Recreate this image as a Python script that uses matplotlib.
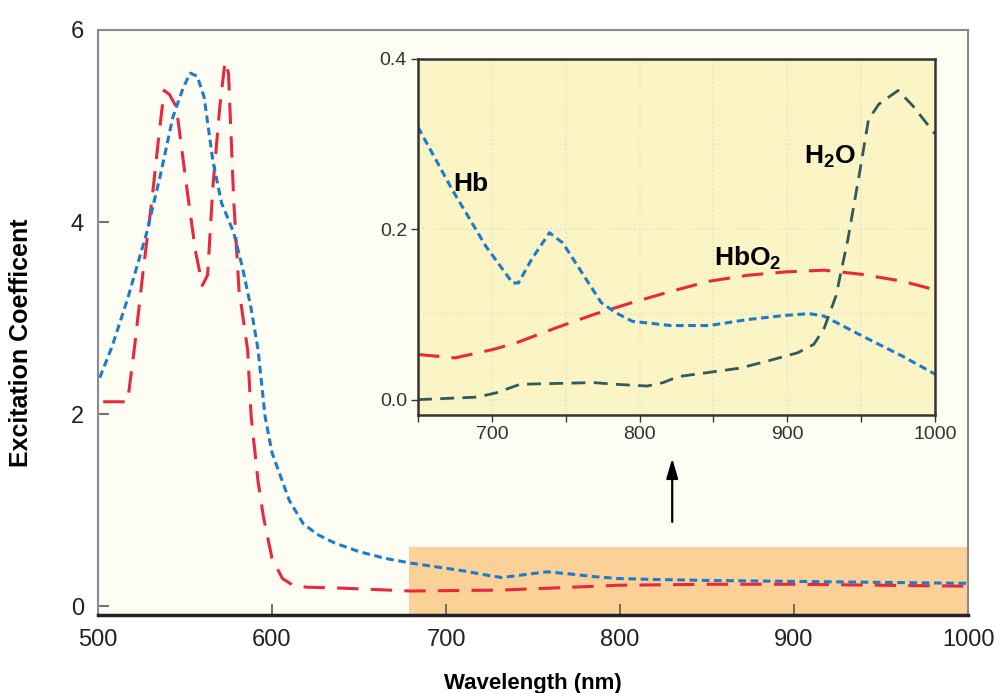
import matplotlib
matplotlib.use('Agg')
import matplotlib.pyplot as plt
from matplotlib.ticker import MultipleLocator

plt.rcParams['font.family'] = ['Liberation Sans Narrow', 'Liberation Sans', 'DejaVu Sans']
plt.rcParams['mathtext.default'] = 'regular'

# Main spectrum, 500-1000 nm
hb_x = [501, 508, 517, 528, 536, 543, 549, 553, 557, 561, 566, 571, 578, 583,
        588, 592, 596, 600, 604, 610, 618, 626, 636, 650, 665, 680, 695, 710,
        722, 732, 745, 758, 770, 785, 799, 820, 851, 900, 950, 1000]
hb_y = [2.38, 2.7, 3.2, 3.89, 4.5, 5.09, 5.4, 5.55, 5.52, 5.3, 4.64, 4.2, 3.89, 3.53,
        3.1, 2.67, 1.98, 1.6, 1.4, 1.1, 0.86, 0.75, 0.66, 0.57, 0.5, 0.45, 0.41, 0.37,
        0.33, 0.30, 0.33, 0.36, 0.34, 0.31, 0.29, 0.28, 0.27, 0.26, 0.25, 0.24]

hbo2_x = [503, 510, 517, 521, 526, 531, 535, 538, 541, 545, 551, 556, 560, 563,
          566, 570, 573, 575, 578, 581, 586, 588, 592, 595, 600, 606, 612, 620,
          640, 680, 732, 760, 799, 851, 900, 950, 1000]
hbo2_y = [2.13, 2.13, 2.13, 2.7, 3.5, 4.23, 4.9, 5.37, 5.33, 5.2, 4.36, 3.7, 3.34, 3.45,
          4.36, 5.2, 5.67, 5.55, 4.23, 3.3, 2.67, 1.98, 1.3, 0.94, 0.5, 0.29, 0.22, 0.2,
          0.19, 0.16, 0.17, 0.19, 0.22, 0.23, 0.23, 0.22, 0.21]

# Near-infrared window (inset)
hb_nir_x = [650, 673, 696, 714, 718, 727, 739, 748, 761, 774, 784, 795, 821, 847,
            873, 899, 915, 925, 951, 978, 1000]
hb_nir_y = [0.32, 0.247, 0.18, 0.137, 0.137, 0.165, 0.196, 0.184, 0.149, 0.114, 0.102,
            0.092, 0.087, 0.087, 0.094, 0.099, 0.101, 0.098, 0.0745, 0.051, 0.03]

hbo2_nir_x = [650, 675, 701, 717, 743, 769, 795, 821, 847, 873, 899, 925, 951, 978, 1000]
hbo2_nir_y = [0.053, 0.049, 0.059, 0.067, 0.084, 0.100, 0.114, 0.127, 0.139, 0.146,
              0.150, 0.152, 0.147, 0.139, 0.129]

h2o_nir_x = [650, 690, 703, 719, 743, 769, 784, 805, 816, 826, 847, 868, 886, 907,
             918, 925, 933, 941, 949, 955, 962, 975, 985, 1000]
h2o_nir_y = [0.0, 0.003, 0.008, 0.018, 0.019, 0.020, 0.018, 0.016, 0.020, 0.027, 0.032,
             0.037, 0.045, 0.055, 0.065, 0.084, 0.122, 0.188, 0.267, 0.329, 0.347, 0.363,
             0.345, 0.312]

red = '#e8283c'
blue = '#1b7ccb'
teal = '#2f5b5c'
bold_font = ['Liberation Sans', 'DejaVu Sans']

fig = plt.figure(figsize=(10.07, 6.93), dpi=100)
ax = fig.add_axes([0.0973, 0.1125, 0.864, 0.8443])
ax.set_facecolor('#fefdf4')

ax.axvspan(679, 1000, ymin=0, ymax=(0.62 + 0.09) / 6.09, color='#fbd197', lw=0, zorder=0)
ax.plot(hbo2_x, hbo2_y, color=red, lw=2.2, dashes=(7, 4))
ax.plot(hb_x, hb_y, color=blue, lw=2.2, dashes=(2.5, 1.5))

ax.annotate('', xy=(830, 1.57), xytext=(830, 0.85),
            arrowprops=dict(arrowstyle='-|>,head_width=0.35,head_length=1.2', color='black', lw=1.6))

ax.set_xlim(500, 1000)
ax.set_ylim(-0.09, 6)
ax.set_xticks([500, 600, 700, 800, 900, 1000])
ax.set_yticks([0, 2, 4, 6])
ax.tick_params(axis='both', direction='in', length=8, width=1.2, color='#555555',
               labelsize=17, labelcolor='#222222', pad=10)
for side in ['left', 'top', 'right']:
    ax.spines[side].set_color('#8a8a8a')
    ax.spines[side].set_linewidth(1.5)
ax.spines['bottom'].set_color('#222222')
ax.spines['bottom'].set_linewidth(2.5)

ax.set_xlabel('Wavelength (nm)', fontsize=16, fontweight='bold', labelpad=16, family=bold_font)
ax.set_ylabel('Excitation Coefficent', fontsize=18, fontweight='bold', family=bold_font)
ax.yaxis.set_label_coords(-0.075, 0.466)

# Inset
ins = fig.add_axes([0.4151, 0.4012, 0.5134, 0.5137])
ins.set_facecolor('#fbf4c4')
ins.plot(hbo2_nir_x, hbo2_nir_y, color=red, lw=2.2, dashes=(7, 4))
ins.plot(hb_nir_x, hb_nir_y, color=blue, lw=2.2, dashes=(2.5, 1.5))
ins.plot(h2o_nir_x, h2o_nir_y, color=teal, lw=2.0, dashes=(5, 3))
ins.set_xlim(650, 1000)
ins.set_ylim(-0.018, 0.4)
ins.set_xticks([700, 800, 900, 1000])
ins.xaxis.set_minor_locator(MultipleLocator(50))
ins.set_yticks([0.0, 0.2, 0.4])
ins.set_yticklabels(['0.0', '0.2', '0.4'])
ins.yaxis.set_minor_locator(MultipleLocator(0.1))
ins.grid(which='both', color='#e6e2c8', linestyle=':', linewidth=1.2)
ins.tick_params(which='both', direction='out', length=5, width=1, color='#333333',
                labelsize=14, labelcolor='#333333', pad=3)
ins.tick_params(axis='y', which='minor', length=0)
for side in ins.spines:
    ins.spines[side].set_color('#333333')
    ins.spines[side].set_linewidth(1.8)

ins.text(686, 0.253, 'Hb', fontsize=19, fontweight='bold', ha='center', va='center', family=bold_font)
ins.text(873, 0.166, 'HbO$_2$', fontsize=19, fontweight='bold', ha='center', va='center', family=bold_font)
ins.text(929, 0.285, 'H$_2$O', fontsize=19, fontweight='bold', ha='center', va='center', family=bold_font)

fig.savefig('out.png', dpi=100)
